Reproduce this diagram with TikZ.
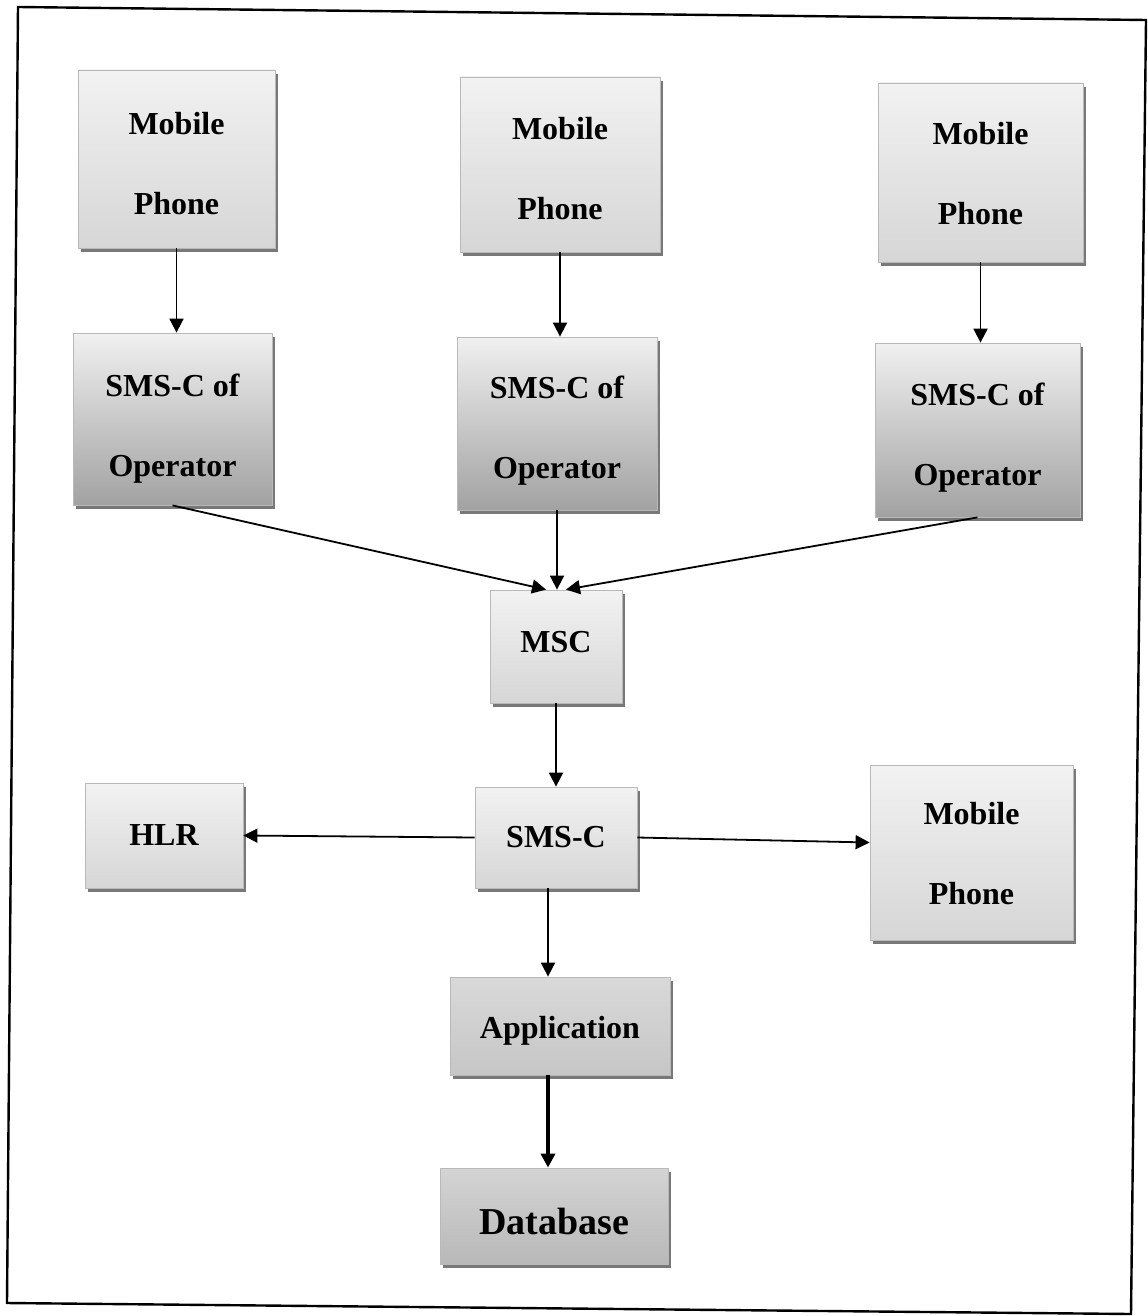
\documentclass[tikz,border=0pt]{standalone}
\usepackage{fontspec}
\setmainfont{Liberation Serif}
\usetikzlibrary{arrows.meta,shadows,calc}
\definecolor{lightA}{HTML}{F2F2F2}
\definecolor{lightB}{HTML}{D6D6D6}
\definecolor{opA}{HTML}{F0F0F0}
\definecolor{opB}{HTML}{A2A2A2}
\definecolor{appA}{HTML}{D9D9D9}
\definecolor{appB}{HTML}{C6C6C6}
\definecolor{dbA}{HTML}{D4D4D4}
\definecolor{dbB}{HTML}{B8B8B8}
\newcommand{\lowr}[1]{\rule{0pt}{#1}}
\newcommand{\highr}[1]{\rule[-#1]{0pt}{#1}}
\tikzset{
  box/.style={draw=gray!55, line width=0.4pt, align=center, inner sep=0pt,
    font=\bfseries\fontsize{16}{40}\selectfont,
    drop shadow={shadow xshift=1.5pt, shadow yshift=-2.2pt, fill=black!75, opacity=0.7}},
  lightbox/.style={box, top color=lightA, bottom color=lightB},
  opbox/.style={box, top color=opA, bottom color=opB},
  appbox/.style={box, top color=appA, bottom color=appB},
  dbbox/.style={box, top color=dbA, bottom color=dbB, font=\bfseries\fontsize{19}{23}\selectfont},
  arr/.style={draw=black, line width=0.9pt, -{Triangle[length=7pt,width=7pt]}},
  frame/.style={draw=black, line width=1.2pt}
}
\begin{document}
\begin{tikzpicture}[x=0.5pt,y=-0.5pt]
\useasboundingbox (0,0) rectangle (1147,1316);
\fill[white] (0,0) rectangle (1147,1316);
\draw[frame] (18,7) -- (1146,20) -- (1131,1314) -- (7,1303) -- cycle;

% top row mobile phones
\node[lightbox, minimum width=98.5pt, minimum height=89pt] (mp1) at (176.5,159) {\lowr{16pt}Mobile\\Phone};
\node[lightbox, minimum width=100pt, minimum height=87.5pt] (mp2) at (560,164.5) {\lowr{15.5pt}Mobile\\Phone};
\node[lightbox, minimum width=102.5pt, minimum height=89.5pt] (mp3) at (980.5,172.5) {\lowr{12.5pt}Mobile\\Phone};

% operator SMS-C
\node[opbox, minimum width=99.5pt, minimum height=86pt] (so1) at (172.5,419) {\lowr{20.5pt}SMS-C of\\Operator};
\node[opbox, minimum width=100pt, minimum height=86.5pt] (so2) at (557,423.5) {\lowr{18.5pt}SMS-C of\\Operator};
\node[opbox, minimum width=102.5pt, minimum height=87pt] (so3) at (977.5,430) {\lowr{19pt}SMS-C of\\Operator};

% MSC and SMS-C
\node[lightbox, minimum width=66pt, minimum height=56.5pt] (msc) at (556,646.5) {MSC\highr{5pt}};
\node[lightbox, minimum width=81pt, minimum height=50.5pt] (smsc) at (556,837.5) {SMS-C};
\node[lightbox, minimum width=79pt, minimum height=52.5pt] (hlr) at (164,835.5) {HLR};
\node[lightbox, minimum width=101.5pt, minimum height=87.5pt] (mp4) at (971.5,852.5) {\lowr{12.5pt}Mobile\\Phone};

% application and database
\node[appbox, minimum width=110pt, minimum height=49pt] (app) at (560,1026) {\lowr{16pt}Application};
\node[dbbox, minimum width=114pt, minimum height=48pt] (db) at (554,1216) {\lowr{19pt}Database};

% connectors
\draw[arr] (mp1.south) -- (so1.north -| mp1.south);
\draw[arr] (mp2.south) -- (so2.north -| mp2.south);
\draw[arr] (mp3.south) -- (so3.north -| mp3.south);
\draw[arr] (so1.south) -- ($(msc.north)+(-10,0)$);
\draw[arr] (so2.south) -- (msc.north -| so2.south);
\draw[arr] (so3.south) -- ($(msc.north)+(10,0)$);
\draw[arr] (msc.south) -- (smsc.north);
\draw[arr] (smsc.west) -- (hlr.east);
\draw[arr] (smsc.east) -- ($(mp4.west)+(0,-10)$);
\draw[arr] ($(smsc.south)+(-8,0)$) -- ($(app.north)+(-12,0)$);
\draw[arr, line width=1.8pt] ($(app.south)+(-12,0)$) -- ($(db.north)+(-6,0)$);
\end{tikzpicture}
\end{document}
